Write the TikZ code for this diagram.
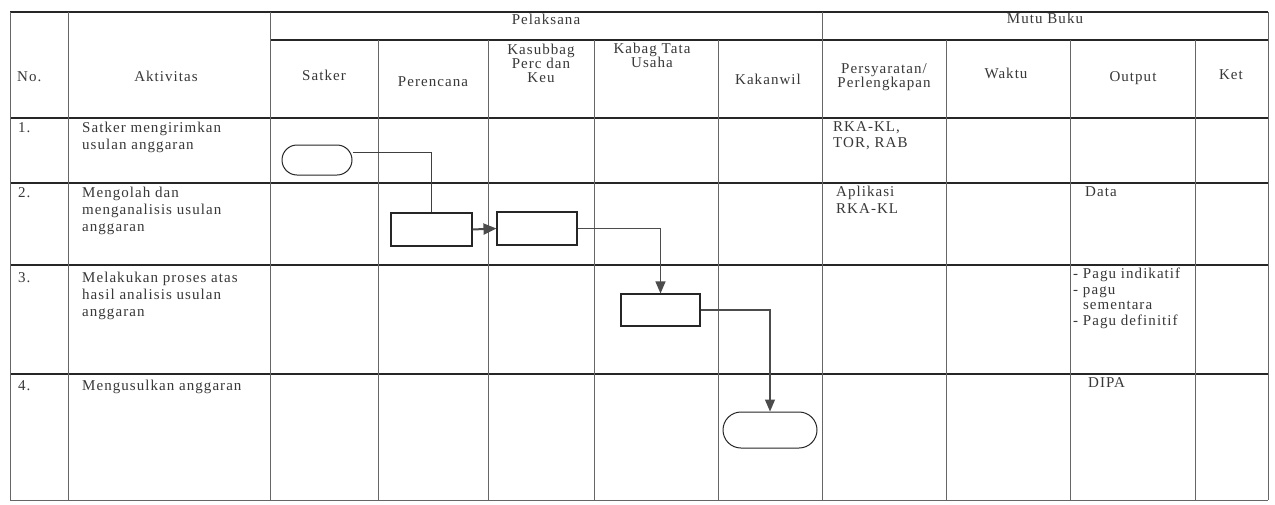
\documentclass[tikz,border=0pt]{standalone}
\usepackage{fontspec}
\setmainfont{Liberation Serif}[LetterSpace=7]
\usetikzlibrary{arrows.meta,shapes.misc}
\begin{document}
\begin{tikzpicture}[x=1pt,y=-1pt,
  hline/.style={line width=1.4pt, draw=black!85},
  vline/.style={line width=0.7pt, draw=black!60},
  txt/.style={font=\fontsize{15}{16.8}\selectfont, text=black!78, inner sep=0pt, align=left, anchor=north west},
  hdr/.style={font=\fontsize{15}{14}\selectfont, text=black!78, inner sep=0pt, align=center},
  procbox/.style={draw=black!85, line width=1.1pt, minimum width=81pt, minimum height=33pt, inner sep=0pt},
  term/.style={rounded rectangle, draw=black!85, line width=1pt, inner sep=0pt},
  flow/.style={draw=black!70, line width=1.2pt, -{Triangle[length=12pt,width=10pt]}},
  plain/.style={draw=black!75, line width=1pt}]
\fill[white] (0,0) rectangle (1275,504);
\useasboundingbox (0,0) rectangle (1275,504);

% horizontal lines
\draw[hline] (10,12) -- (1268,12);
\draw[hline] (270,40) -- (1268,40);
\draw[hline] (10,118) -- (1268,118);
\draw[hline] (10,183) -- (1268,183);
\draw[hline] (10,265) -- (1268,265);
\draw[hline] (10,374) -- (1268,374);
\draw[vline,line width=1pt] (10,500) -- (1268,500);
% vertical lines
\foreach \x in {10,68,270,822,1268} \draw[vline] (\x,12) -- (\x,500);
\foreach \x in {378,488,594,718,946,1070,1195} \draw[vline] (\x,40) -- (\x,500);

% group headers
\node[hdr] (hpel) at (546,19) {Pelaksana};
\node[hdr] (hmutu) at (1045,18) {Mutu Buku};
% column headers
\node[hdr,anchor=west] (hno) at (17,77) {No.};
\node[hdr] (hakt) at (166,76) {Aktivitas};
\node[hdr] (hsat) at (324,75) {Satker};
\node[hdr] (hper) at (433,82) {Perencana};
\node[hdr,anchor=north] (hkas) at (541,44) {Kasubbag\\Perc dan\\Keu};
\node[hdr,anchor=north] (hkab) at (652,43) {Kabag Tata\\Usaha};
\node[hdr] (hkak) at (768,79) {Kakanwil};
\node[hdr] (hpers) at (884,77) {Persyaratan/\\Perlengkapan};
\node[hdr] (hwak) at (1006,73) {Waktu};
\node[hdr] (hout) at (1133,78) {Output};
\node[hdr] (hket) at (1231,75) {Ket};

% row texts
\node[txt] (n1) at (18,122) {1.};
\node[txt] (a1) at (82,122) {Satker mengirimkan\\usulan anggaran};
\node[txt] (p1) at (833,121) {RKA-KL,\\TOR, RAB};
\node[txt] (n2) at (18,187) {2.};
\node[txt] (a2) at (82,187) {Mengolah dan\\menganalisis usulan\\anggaran};
\node[txt] (p2) at (836,186) {Aplikasi\\RKA-KL};
\node[txt] (o2) at (1085,186) {Data};
\node[txt] (n3) at (18,272) {3.};
\node[txt] (a3) at (82,272) {Melakukan proses atas\\hasil analisis usulan\\anggaran};
\node[txt,font=\fontsize{15}{15.5}\selectfont] (o3) at (1073,268) {- Pagu indikatif\\- pagu\\\phantom{- }sementara\\- Pagu definitif};
\node[txt] (n4) at (18,380) {4.};
\node[txt] (a4) at (82,380) {Mengusulkan anggaran};
\node[txt] (o4) at (1088,377) {DIPA};

% flow shapes
\node[term,minimum width=70pt,minimum height=30pt] (S) at (317,160) {};
\node[procbox] (A) at (431.5,229.5) {};
\node[procbox,minimum width=80pt] (B) at (537,228.5) {};
\node[procbox,minimum width=79pt,minimum height=32pt] (C) at (660.5,310) {};
\node[term,minimum width=94pt,minimum height=36pt] (D) at (770,430) {};

% connectors
\draw[plain] (S.east) ++(0,-8) -| (A.north);
\draw[flow,line width=2pt,-{Triangle[length=13pt,width=11pt]}] (A.east) -- (B.west);
\draw[flow] (B.east) -| (C.north);
\draw[flow] (C.east) -| (D.north);
\end{tikzpicture}
\end{document}
